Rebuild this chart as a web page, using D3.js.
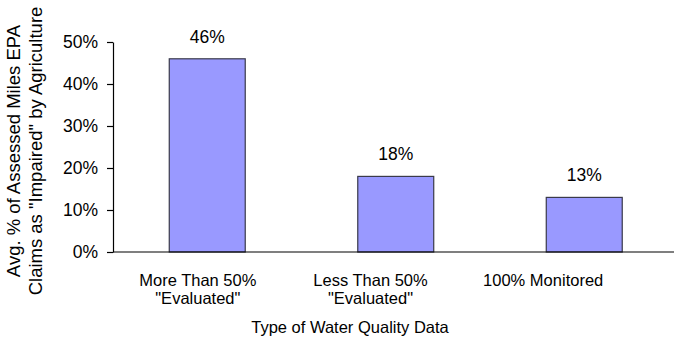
<!DOCTYPE html>
<html>
<head>
<meta charset="utf-8">
<script src="https://cdn.jsdelivr.net/npm/d3@7"></script>
<style>
  html, body { margin: 0; padding: 0; background: #fff; }
  svg { display: block; font-family: "Liberation Sans", Arial, sans-serif; }
</style>
</head>
<body>
<svg id="chart" width="674" height="346"></svg>
<script>
// Water quality data categories and their shares of impaired miles
const categories = ["More Than 50%\n\"Evaluated\"", "Less Than 50%\n\"Evaluated\"", "100% Monitored"];
const values = [0.46, 0.18, 0.13];
const yTicks = [0, 0.1, 0.2, 0.3, 0.4, 0.5];
const xTitle = "Type of Water Quality Data";
const yTitleLines = ["Avg. % of Assessed Miles EPA", "Claims as \"Impaired\" by Agriculture"];

const svg = d3.select("#chart");
const plot = { left: 113, right: 678.5, top: 42, bottom: 252 };

const x = d3.scaleBand()
  .domain(categories)
  .range([plot.left, plot.right])
  .paddingInner(0.597)
  .paddingOuter(0.2985);

// category labels sit on their own slightly narrower band
const xLabel = d3.scaleBand()
  .domain(categories)
  .range([111.5, 629.5]);

const y = d3.scaleLinear()
  .domain([0, 0.5])
  .range([plot.bottom, plot.top]);

const pct = d3.format(".0%");

// bars
svg.append("g")
  .selectAll("rect")
  .data(values)
  .join("rect")
  .attr("x", (d, i) => x(categories[i]))
  .attr("y", d => y(d))
  .attr("width", x.bandwidth())
  .attr("height", d => y(0) - y(d))
  .attr("fill", "#9999ff")
  .attr("stroke", "#3a3a4a")
  .attr("stroke-width", 1.2);

// value labels
svg.append("g")
  .selectAll("text")
  .data(values)
  .join("text")
  .attr("x", (d, i) => x(categories[i]) + x.bandwidth() / 2)
  .attr("y", d => y(d) - 16)
  .attr("text-anchor", "middle")
  .attr("font-size", 17.5)
  .attr("fill", "#000")
  .text(d => pct(d));

// y axis
const yAxis = svg.append("g")
  .attr("transform", `translate(${plot.left},0)`)
  .call(d3.axisLeft(y).tickValues(yTicks).tickFormat(pct).tickSize(6).tickSizeOuter(0).tickPadding(9));
yAxis.select(".domain").attr("stroke", "#000").attr("stroke-width", 1.2);
yAxis.selectAll(".tick line").attr("stroke", "#000").attr("stroke-width", 1.2);
yAxis.selectAll(".tick text")
  .attr("font-size", 17.5)
  .attr("font-family", "Liberation Sans, Arial, sans-serif")
  .attr("fill", "#000");

// x axis baseline
svg.append("line")
  .attr("x1", plot.left)
  .attr("x2", 674)
  .attr("y1", y(0))
  .attr("y2", y(0))
  .attr("stroke", "#000")
  .attr("stroke-width", 1.2);

// category labels (two lines where needed)
const catG = svg.append("g")
  .selectAll("text")
  .data(categories)
  .join("text")
  .attr("text-anchor", "middle")
  .attr("font-size", 16.5)
  .attr("fill", "#000");
catG.each(function (d) {
  const t = d3.select(this);
  const cx = xLabel(d) + xLabel.bandwidth() / 2;
  d.split("\n").forEach((line, k) => {
    t.append("tspan")
      .attr("x", cx)
      .attr("y", 286 + k * 17.5)
      .text(line);
  });
});

// x axis title
svg.append("text")
  .attr("x", 350)
  .attr("y", 333)
  .attr("text-anchor", "middle")
  .attr("font-size", 16.5)
  .attr("fill", "#000")
  .text(xTitle);

// y axis title, two rotated lines
const yt = svg.append("text")
  .attr("transform", "translate(0,151) rotate(-90)")
  .attr("text-anchor", "middle")
  .attr("font-size", 18.5)
  .attr("fill", "#000");
yTitleLines.forEach((line, k) => {
  yt.append("tspan")
    .attr("x", 0)
    .attr("y", 20 + k * 21.5)
    .text(line);
});
</script>
</body>
</html>
